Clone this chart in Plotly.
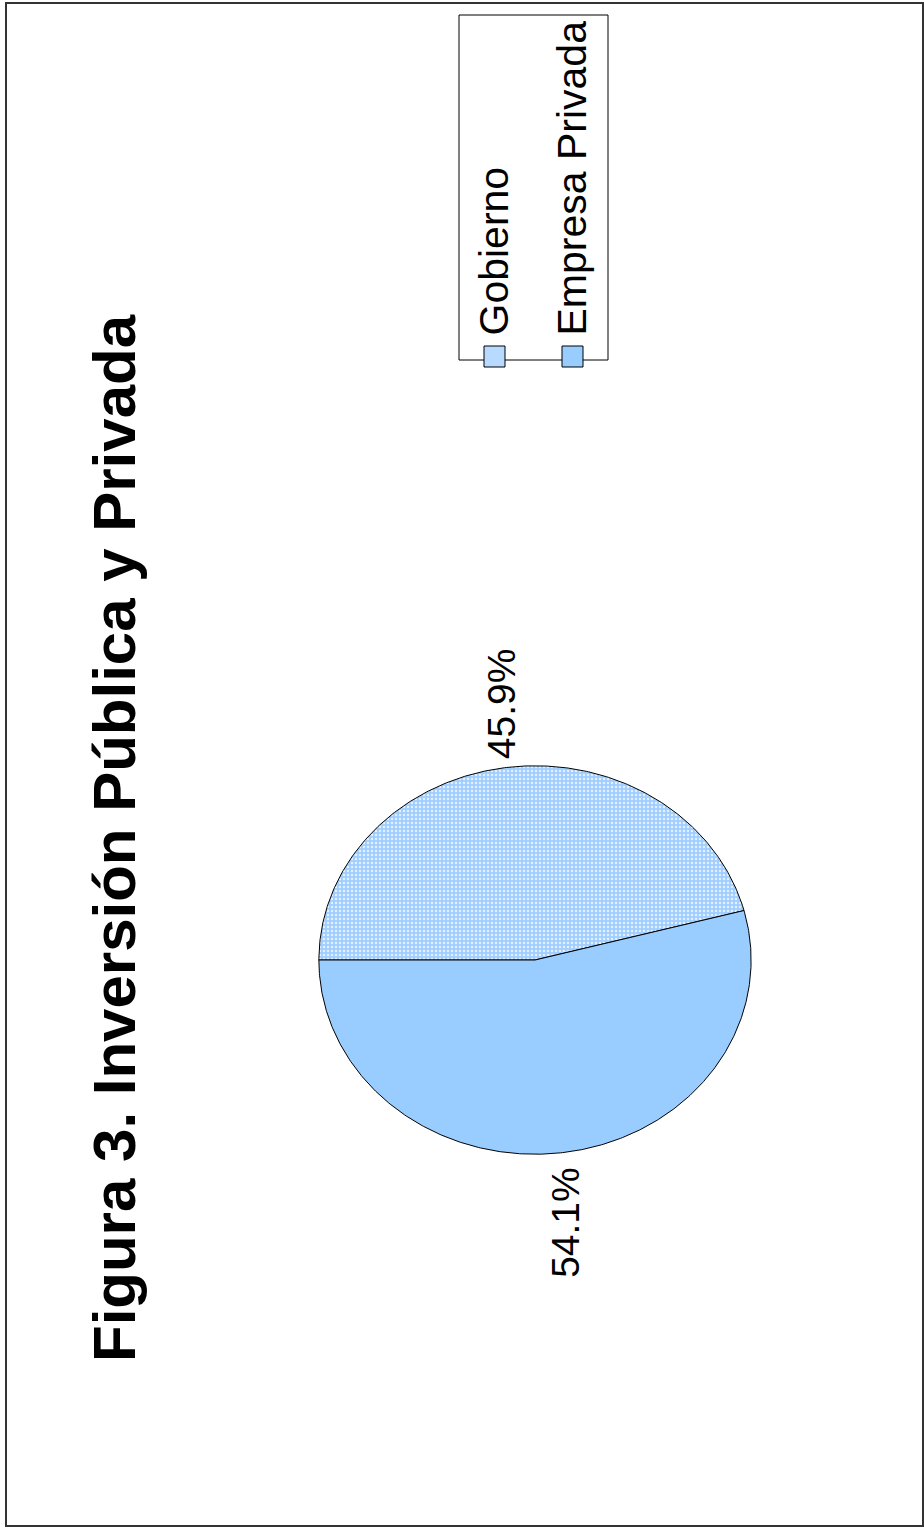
import numpy as np
import plotly.graph_objects as go

# ---- data ----
categories = ["Gobierno", "Empresa Privada"]
values = [45.9, 54.1]
value_labels = ["45.9%", "54.1%"]
title_text = "Figura 3. Inversión Pública y Privada"

W, H = 924, 1528
FONT = "Arial, Liberation Sans, sans-serif"


def px(x):
    return x / W


def py(y):
    return 1 - y / H


fig = go.Figure()

total = sum(values)
start = 180.0  # first slice starts at screen-left, runs clockwise
mids = []
styles = [
    dict(fillcolor="#b8daff",
         fillpattern=dict(shape=".", fgcolor="#e4f1ff", bgcolor="#9fceff",
                          size=4, solidity=0.3, fillmode="replace")),
    dict(fillcolor="#99ccff"),
]
for cat, v, st in zip(categories, values, styles):
    sweep = 360.0 * v / total
    th = np.radians(np.linspace(start, start - sweep, int(sweep * 2) + 2))
    xs = np.concatenate([[0.0], np.cos(th), [0.0]])
    ys = np.concatenate([[0.0], np.sin(th), [0.0]])
    mids.append(np.radians(start - sweep / 2))
    start -= sweep
    fig.add_trace(go.Scatter(
        x=xs, y=ys, mode="lines", fill="toself", name=cat,
        line=dict(color="#000000", width=1), showlegend=False,
        hoverinfo="name", **st))

# ---- axes for pie (ellipse box) ----
fig.update_xaxes(domain=[px(318), px(752)], range=[-1.004, 1.004],
                 visible=False, fixedrange=True)
fig.update_yaxes(domain=[py(1155), py(765)], range=[-1.004, 1.004],
                 visible=False, fixedrange=True)

annotations = []
# value labels, rotated
for lab, m in zip(value_labels, mids):
    up = np.sin(m) > 0
    annotations.append(dict(
        xref="x", yref="y", x=float(np.cos(m)), y=float(np.sin(m)),
        text=lab, showarrow=False, textangle=-90,
        xanchor="center", yanchor="bottom" if up else "top",
        yshift=6 if up else -12, xshift=-5 if up else 2,
        font=dict(family=FONT, size=39, color="#000000")))

# title
annotations.append(dict(
    xref="paper", yref="paper", x=px(114), y=py(838), text="<b>" + title_text + "</b>",
    showarrow=False, textangle=-90, xanchor="center", yanchor="middle",
    font=dict(family=FONT, size=60, color="#000000")))

# legend (rotated, drawn manually)
leg_x = [494, 572]
leg_sw = ["#b8daff", "#99ccff"]
shapes = []
shapes.append(dict(type="rect", xref="paper", yref="paper",
                   x0=px(459), x1=px(608), y0=py(15), y1=py(360),
                   line=dict(color="#000000", width=1), fillcolor="rgba(0,0,0,0)"))
for cat, lx, sw in zip(categories, leg_x, leg_sw):
    shapes.append(dict(type="rect", xref="paper", yref="paper",
                       x0=px(lx - 10), x1=px(lx + 11), y0=py(367), y1=py(346),
                       line=dict(color="#000000", width=1), fillcolor=sw))
    annotations.append(dict(
        xref="paper", yref="paper", x=px(lx), y=py(338), text=cat,
        showarrow=False, textangle=-90, xanchor="center", yanchor="bottom",
        font=dict(family=FONT, size=41, color="#000000")))

# outer border
shapes.append(dict(type="rect", xref="paper", yref="paper",
                   x0=px(6), x1=px(923), y0=py(3), y1=py(1526),
                   line=dict(color="#333333", width=2), fillcolor="rgba(0,0,0,0)"))

fig.update_layout(
    width=W, height=H, margin=dict(l=0, r=0, t=0, b=0),
    paper_bgcolor="#ffffff", plot_bgcolor="#ffffff",
    shapes=shapes, annotations=annotations, showlegend=False,
)

fig.write_html("out.html")
